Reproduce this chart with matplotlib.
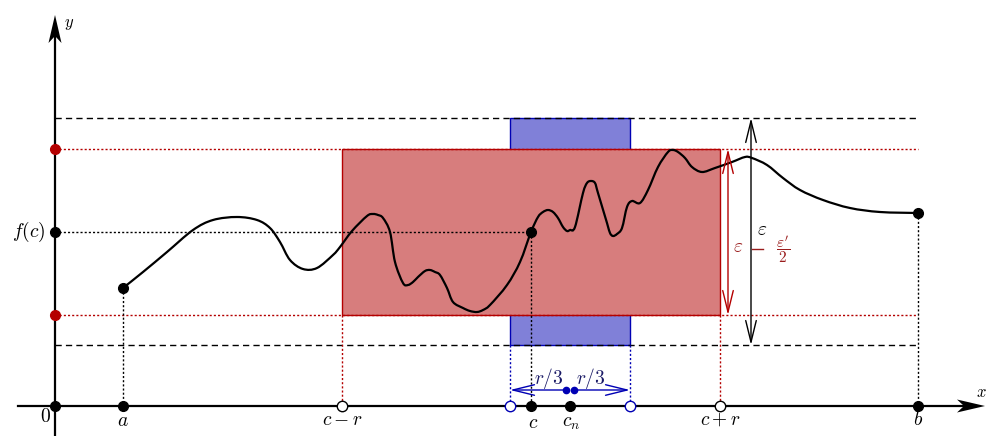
import matplotlib.pyplot as plt
from matplotlib.patches import Rectangle, ArrowStyle, PathPatch, Polygon
from matplotlib.path import Path

plt.rcParams['mathtext.fontset'] = 'cm'
plt.rcParams['font.family'] = ['DejaVu Serif']

# curve f (origin at the axes crossing)
curve_x = [68, 88, 112, 138, 158, 182, 202, 215, 225, 235, 248, 262, 278, 285, 297,
           312, 318, 323, 328, 335, 340, 348, 353, 358, 363, 370, 375, 380, 385, 392,
           398, 408, 415, 422, 428, 435, 452, 465, 476, 483, 488, 493, 498, 503, 508,
           512, 515, 520, 528, 532, 536, 540, 543, 552, 555, 558, 562, 567, 572, 577,
           585, 593, 603, 613, 618, 623, 630, 637, 647, 660, 677, 690, 697, 712, 728,
           745, 768, 795, 825, 863]
curve_y = [118, 134, 154, 176, 186, 189, 186, 178, 164, 146, 137, 138, 151, 159, 175,
           190, 192, 191, 188, 174, 144, 123, 121, 124, 129, 135, 136, 134, 131, 118,
           104, 98, 95, 94, 96, 101, 121, 144, 174, 189, 194, 196, 194, 188, 179,
           175, 176, 179, 213, 223, 225, 223, 213, 183, 173, 170, 172, 178, 199, 205,
           203, 216, 239, 254, 256, 254, 248, 239, 234, 238, 244, 249, 248, 241, 228,
           216, 206, 198, 194, 193]

a, b = 68, 863
c, fc = 476, 174
r = 189
cn, r3 = 515, 60
eps_hi, eps_lo = 257, 91      # f(c) +- (eps - eps'/2)
big_hi, big_lo = 288, 61      # f(c) +- eps
x_end, y_end = 930, 391

red = '#b40000'
red_txt = '#9a1c1c'
blue = '#0000b4'

fig = plt.figure(figsize=(9.87, 4.36), dpi=100)
ax = fig.add_axes([0, 0, 1, 1])
ax.set_xlim(-55, 932)
ax.set_ylim(-30, 406)
ax.axis('off')

# rectangles
ax.add_patch(Rectangle((cn - r3, big_lo), 2 * r3, big_hi - big_lo,
                       facecolor='#8080d8', edgecolor=blue, lw=1, zorder=1))
ax.add_patch(Rectangle((c - r, eps_lo), 2 * r, eps_hi - eps_lo,
                       facecolor='#d77d7d', edgecolor=red, lw=1, zorder=2))

# guide lines
dot = (0, (1.5, 1.5))
for yy in (big_hi, big_lo):
    ax.plot([0, b], [yy, yy], color='k', lw=1, ls=(0, (4.5, 3)), zorder=3)
for yy in (eps_hi, eps_lo):
    ax.plot([0, b], [yy, yy], color=red, lw=1, ls=dot, zorder=3)
ax.plot([0, c], [fc, fc], color='k', lw=1, ls=dot, zorder=3)
ax.plot([a, a], [curve_y[0], 0], color='k', lw=1, ls=dot, zorder=3)
ax.plot([c, c], [fc, 0], color='k', lw=1, ls=dot, zorder=3)
ax.plot([b, b], [curve_y[-1], 0], color='k', lw=1, ls=dot, zorder=3)
for xx in (c - r, c + r):
    ax.plot([xx, xx], [eps_lo, 0], color=red, lw=1, ls=dot, zorder=3)
for xx in (cn - r3, cn + r3):
    ax.plot([xx, xx], [big_lo, 0], color=blue, lw=1, ls=dot, zorder=3)

# curve: smooth bezier path through the read points
pts = list(zip(curve_x, curve_y))
verts = [pts[0]]
codes = [Path.MOVETO]
for i in range(len(pts) - 1):
    p0 = pts[max(i - 1, 0)]
    p1 = pts[i]
    p2 = pts[i + 1]
    p3 = pts[min(i + 2, len(pts) - 1)]
    c1 = (p1[0] + (p2[0] - p0[0]) / 6, p1[1] + (p2[1] - p0[1]) / 6)
    c2 = (p2[0] - (p3[0] - p1[0]) / 6, p2[1] - (p3[1] - p1[1]) / 6)
    verts += [c1, c2, p2]
    codes += [Path.CURVE4] * 3
ax.add_patch(PathPatch(Path(verts, codes), facecolor='none', edgecolor='k',
                       lw=1.6, capstyle='round', joinstyle='round', zorder=4))

# axes with stealth arrow heads
ax.plot([-37, x_end - 20], [0, 0], color='k', lw=1.6, zorder=5)
ax.plot([0, 0], [-30, y_end - 20], color='k', lw=1.6, zorder=5)
ax.add_patch(Polygon([(x_end, 0), (x_end - 28, 6.5), (x_end - 21, 0), (x_end - 28, -6.5)],
                     closed=True, color='k', lw=0, zorder=5))
ax.add_patch(Polygon([(0, y_end), (6.5, y_end - 28), (0, y_end - 21), (-6.5, y_end - 28)],
                     closed=True, color='k', lw=0, zorder=5))

# epsilon arrows
open_head = ArrowStyle('<->', head_length=1.55, head_width=0.38)
ax.annotate('', xy=(696, big_hi), xytext=(696, big_lo),
            arrowprops=dict(arrowstyle=open_head, color='k', lw=1,
                            mutation_scale=10, shrinkA=0, shrinkB=0), zorder=5)
ax.annotate('', xy=(673, eps_hi), xytext=(673, eps_lo),
            arrowprops=dict(arrowstyle=open_head, color=red, lw=1,
                            mutation_scale=10, shrinkA=0, shrinkB=0), zorder=5)

# r/3 arrows
one_head = ArrowStyle('->', head_length=1.55, head_width=0.38)
ax.annotate('', xy=(cn - r3, 16), xytext=(cn - 4, 16),
            arrowprops=dict(arrowstyle=one_head, color=blue, lw=1,
                            mutation_scale=10, shrinkA=0, shrinkB=0), zorder=5)
ax.annotate('', xy=(cn + r3, 16), xytext=(cn + 4, 16),
            arrowprops=dict(arrowstyle=one_head, color=blue, lw=1,
                            mutation_scale=10, shrinkA=0, shrinkB=0), zorder=5)
ax.plot([cn - 4, cn + 4], [16, 16], 'o', color=blue, ms=4.5, zorder=6)

# points
ax.plot([0, a, c, cn, b, 0], [0, 0, 0, 0, 0, fc], 'o', color='k', ms=7, zorder=6)
ax.plot([a, c, b], [curve_y[0], fc, curve_y[-1]], 'o', color='k', ms=7, zorder=6)
ax.plot([0, 0], [eps_hi, eps_lo], 'o', color=red, ms=7, zorder=6)
ax.plot([c - r, c + r], [0, 0], 'o', mfc='white', mec='k', mew=1, ms=7.5, zorder=6)
ax.plot([cn - r3, cn + r3], [0, 0], 'o', mfc='white', mec=blue, mew=1, ms=7.5, zorder=6)

# labels
fs = 14
ax.text(14, 382, '$y$', fontsize=fs - 2, ha='center', va='center')
ax.text(932, 14, '$x$', fontsize=fs - 2, ha='right', va='center')
ax.text(-10, -11, '$0$', fontsize=fs, ha='center', va='center')
ax.text(-10, fc, '$f(c)$', fontsize=fs, ha='right', va='center')
ax.text(a, -15, '$a$', fontsize=fs, ha='center', va='center')
ax.text(c - r, -14, '$c-r$', fontsize=fs, ha='center', va='center')
ax.text(c + 2, -17, '$c$', fontsize=fs, ha='center', va='center')
ax.text(cn + 1, -17, '$c_n$', fontsize=fs, ha='center', va='center')
ax.text(c + r, -14, '$c+r$', fontsize=fs, ha='center', va='center')
ax.text(b, -14, '$b$', fontsize=fs, ha='center', va='center')
ax.text(cn - 21, 28, '$r/3$', fontsize=fs, color='#1a1a66', ha='center', va='center')
ax.text(cn + 21, 28, '$r/3$', fontsize=fs, color='#1a1a66', ha='center', va='center')
ax.text(707, 176, r'$\varepsilon$', fontsize=fs, ha='center', va='center')
ax.text(683, 159, r'$\varepsilon$', fontsize=fs, color=red_txt, ha='center', va='center')
ax.plot([697, 708], [157, 157], color=red_txt, lw=1, zorder=5)
ax.text(728, 157, r"$\dfrac{\varepsilon'}{2}$", fontsize=fs - 3, color=red_txt,
        ha='center', va='center')

fig.savefig('out.png', dpi=100)
